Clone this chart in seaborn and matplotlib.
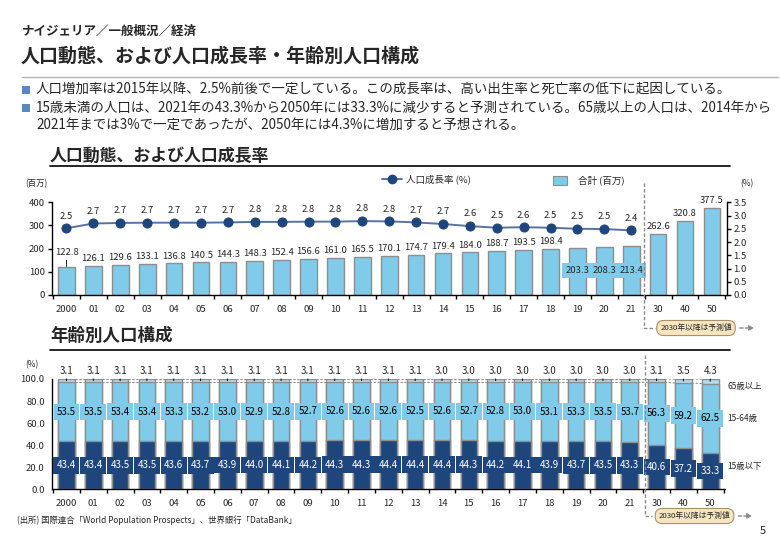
import numpy as np
import pandas as pd
import matplotlib
matplotlib.use("Agg")
import matplotlib.pyplot as plt
import seaborn as sns
from matplotlib.patches import Rectangle, FancyArrowPatch
from matplotlib.lines import Line2D

# ---------------- data ----------------
years = ["2000", "01", "02", "03", "04", "05", "06", "07", "08", "09", "10",
         "11", "12", "13", "14", "15", "16", "17", "18", "19", "20", "21",
         "30", "40", "50"]
total = [122.8, 126.1, 129.6, 133.1, 136.8, 140.5, 144.3, 148.3, 152.4, 156.6,
         161.0, 165.5, 170.1, 174.7, 179.4, 184.0, 188.7, 193.5, 198.4, 203.3,
         208.3, 213.4, 262.6, 320.8, 377.5]
growth = [2.52, 2.70, 2.72, 2.73, 2.73, 2.73, 2.74, 2.76, 2.76, 2.77, 2.77,
          2.79, 2.78, 2.74, 2.68, 2.60, 2.54, 2.56, 2.54, 2.50, 2.49, 2.44]
under15 = [43.4, 43.4, 43.5, 43.5, 43.6, 43.7, 43.9, 44.0, 44.1, 44.2, 44.3,
           44.3, 44.4, 44.4, 44.4, 44.3, 44.2, 44.1, 43.9, 43.7, 43.5, 43.3,
           40.6, 37.2, 33.3]
age15_64 = [53.5, 53.5, 53.4, 53.4, 53.3, 53.2, 53.0, 52.9, 52.8, 52.7, 52.6,
            52.6, 52.6, 52.5, 52.6, 52.7, 52.8, 53.0, 53.1, 53.3, 53.5, 53.7,
            56.3, 59.2, 62.5]
over65 = [3.1, 3.1, 3.1, 3.1, 3.1, 3.1, 3.1, 3.1, 3.1, 3.1, 3.1,
          3.1, 3.1, 3.1, 3.0, 3.0, 3.0, 3.0, 3.0, 3.0, 3.0, 3.0,
          3.1, 3.5, 4.3]
y_left_ticks = [0, 100, 200, 300, 400]
y_right_ticks = [0.0, 0.5, 1.0, 1.5, 2.0, 2.5, 3.0, 3.5]
y_share_ticks = [0.0, 20.0, 40.0, 60.0, 80.0, 100.0]

# ---------------- style ----------------
sns.set_theme(style="white")
plt.rcParams["font.family"] = ["Noto Sans CJK JP", "DejaVu Sans"]
plt.rcParams["axes.unicode_minus"] = False

LB = "#7FCBE9"
PALE = "#B3DDEE"
NAVY = "#1F467C"
LINEC = "#5673A3"
EDGE = "#8E8E8E"
BULLET = "#5B86C2"

W, H = 780, 540
fig = plt.figure(figsize=(7.8, 5.4), dpi=100)
fig.patch.set_facecolor("white")


def P(x, y):
    return (x / W, 1 - y / H)


def axes_px(l, t, r, b):
    return fig.add_axes([l / W, 1 - b / H, (r - l) / W, (b - t) / H])


def ftext(x, y, s, **kw):
    fig.text(x / W, 1 - y / H, s, **kw)


def fline(xs, ys, **kw):
    fig.add_artist(Line2D([x / W for x in xs], [1 - y / H for y in ys],
                          transform=fig.transFigure, **kw))


# ---------------- header ----------------
ftext(22, 31, "ナイジェリア／一般概況／経済", fontsize=9, fontweight="bold",
      va="center", ha="left")
ftext(21, 56, "人口動態、および人口成長率・年齢別人口構成", fontsize=13.7,
      fontweight="bold", va="center", ha="left")
fline([22, 778], [77, 77], color="#B5B5B5", lw=1)

bullets = [
    (90, "人口増加率は2015年以降、2.5%前後で一定している。この成長率は、高い出生率と死亡率の低下に起因している。", True),
    (108, "15歳未満の人口は、2021年の43.3%から2050年には33.3%に減少すると予測されている。65歳以上の人口は、2014年から", True),
    (125, "2021年までは3%で一定であったが、2050年には4.3%に増加すると予想される。", False),
]
for y, s, mark in bullets:
    if mark:
        fig.add_artist(Rectangle(P(22, y + 4), 8 / W, 8 / H, transform=fig.transFigure,
                                 fc=BULLET, ec="none"))
    ftext(36, y, s, fontsize=9.7, va="center", ha="left")

# section titles
ftext(50, 156, "人口動態、および人口成長率", fontsize=12.2, fontweight="bold",
      va="center", ha="left")
fline([50, 730], [166, 166], color="black", lw=1.2)
ftext(50, 336, "年齢別人口構成", fontsize=12.6, fontweight="bold",
      va="center", ha="left")
fline([50, 730], [350, 350], color="black", lw=1.2)

# ---------------- top chart ----------------
ax1 = axes_px(51.7, 202.3, 726.7, 295)
df1 = pd.DataFrame({"year": years, "total": total})
sns.barplot(data=df1, x="year", y="total", order=years, ax=ax1, color=LB,
            edgecolor=EDGE, linewidth=1, width=0.62, saturation=1)
ax1.set_xlim(-0.55, len(years) - 0.45)
ax1.set_ylim(0, 400)

for i, v in enumerate(total):
    if i in (19, 20, 21):
        ax1.text(i, 105, f"{v:.1f}", ha="center", va="center", fontsize=6.8,
                 bbox=dict(boxstyle="square,pad=0.35", fc=LB, ec="none"), zorder=5)
    elif i == 0:
        ax1.annotate(f"{v:.1f}", xy=(i, v), xytext=(0, 7), textcoords="offset points",
                     ha="center", va="bottom", fontsize=6.8,
                     arrowprops=dict(arrowstyle="-", lw=0.6, color="black",
                                     shrinkA=0, shrinkB=0))
    else:
        ax1.annotate(f"{v:.1f}", xy=(i, v), xytext=(0, 2), textcoords="offset points",
                     ha="center", va="bottom", fontsize=6.8)

ax2 = ax1.twinx()
sns.lineplot(x=np.arange(len(growth)), y=growth, ax=ax2, color=LINEC, lw=1.4,
             marker="o", markersize=6.5, markerfacecolor=NAVY, markeredgecolor=NAVY)
ax2.set_ylim(0, 3.5)
for i, g in enumerate(growth):
    ax2.annotate(f"{g:.1f}", xy=(i, g), xytext=(0, 5.5), textcoords="offset points",
                 ha="center", va="bottom", fontsize=6.8)

ax1.set_yticks(y_left_ticks)
ax1.set_yticklabels([str(t) for t in y_left_ticks], fontsize=6.8)
ax2.set_yticks(y_right_ticks)
ax2.set_yticklabels([f"{t:.1f}" for t in y_right_ticks], fontsize=6.8)
for a in (ax1, ax2):
    a.set_xlabel("")
    a.set_ylabel("")
    a.grid(False)
    a.spines["top"].set_visible(False)
    for s in ("left", "right", "bottom"):
        a.spines[s].set_color("black")
        a.spines[s].set_linewidth(1)
ax1.spines["right"].set_visible(False)
ax2.spines["left"].set_visible(False)
ax2.spines["bottom"].set_visible(False)
ax1.tick_params(axis="y", direction="out", length=3, width=1, color="black", pad=2)
ax2.tick_params(axis="y", direction="out", length=3, width=1, color="black", pad=2)

# ---------------- bottom chart ----------------
ax3 = axes_px(51.7, 379, 725, 489.3)
cum2 = [a + b for a, b in zip(under15, age15_64)]
cum3 = [a + b for a, b in zip(cum2, over65)]
bw = 0.62
sns.barplot(x=years, y=cum3, order=years, ax=ax3, color=PALE, edgecolor=EDGE,
            linewidth=1, width=bw, saturation=1)
sns.barplot(x=years, y=cum2, order=years, ax=ax3, color=LB, edgecolor=EDGE,
            linewidth=1, width=bw, saturation=1)
sns.barplot(x=years, y=under15, order=years, ax=ax3, color=NAVY, edgecolor=EDGE,
            linewidth=1, width=bw, saturation=1)
ax3.set_xlim(-0.55, len(years) - 0.45)
ax3.set_ylim(0, 100)

# series lines
for i in range(len(years) - 1):
    for cum in (cum3, cum2):
        ax3.plot([i + bw / 2, i + 1 - bw / 2], [min(cum[i], 100), min(cum[i + 1], 100)],
                 ls=(0, (2, 1.5)), color="#8A8A8A", lw=0.8, zorder=1)

for i in range(len(years)):
    ax3.text(i, under15[i] / 2, f"{under15[i]:.1f}", ha="center", va="center",
             fontsize=7, color="white",
             bbox=dict(boxstyle="square,pad=0.35", fc=NAVY, ec="none"), zorder=5)
    ax3.text(i, under15[i] + age15_64[i] / 2, f"{age15_64[i]:.1f}", ha="center",
             va="center", fontsize=7, color="black",
             bbox=dict(boxstyle="square,pad=0.35", fc=LB, ec="none"), zorder=5)
    ax3.annotate(f"{over65[i]:.1f}", xy=(i, cum2[i] + over65[i] / 2),
                 xytext=(i, 107.5), textcoords="data", ha="center", va="center",
                 fontsize=7, annotation_clip=False,
                 arrowprops=dict(arrowstyle="-", lw=0.7, color="black",
                                 shrinkA=0, shrinkB=0))

ax3.set_yticks(y_share_ticks)
ax3.set_yticklabels([f"{t:.1f}" for t in y_share_ticks], fontsize=6.8)
ax3.set_xlabel("")
ax3.set_ylabel("")
ax3.grid(False)
for s in ("top", "right"):
    ax3.spines[s].set_visible(False)
for s in ("left", "bottom"):
    ax3.spines[s].set_color("black")
    ax3.spines[s].set_linewidth(1)
ax3.tick_params(axis="y", direction="out", length=3, width=1, color="black", pad=2)

# shared x tick handling (category labels, boundary ticks)
for a in (ax1, ax3):
    a.set_xticks(np.arange(len(years)))
    a.set_xticklabels(years, fontsize=6.8)
    a.set_xticks(np.arange(-0.5, len(years)), minor=True)
    a.tick_params(axis="x", which="major", length=0, pad=7)
    a.tick_params(axis="x", which="minor", direction="out", length=3, width=1,
                  color="black", bottom=True)

# axis unit labels
ftext(25, 184, "(百万)", fontsize=6, va="center", ha="left")
ftext(740, 184, "(%)", fontsize=6, va="center", ha="left")
ftext(25, 365, "(%)", fontsize=6, va="center", ha="left")

# legend (top chart)
fline([382, 402], [179, 179], color=LINEC, lw=1.4)
fig.add_artist(Line2D([392 / W], [1 - 179 / H], transform=fig.transFigure,
                      marker="o", markersize=6, color=NAVY, lw=0))
ftext(406, 179, "人口成長率 (%)", fontsize=6.8, va="center", ha="left")
fig.add_artist(Rectangle(P(553, 185), 14 / W, 9 / H, transform=fig.transFigure,
                         fc=LB, ec=EDGE, lw=0.8))
ftext(578, 180, "合計 (百万)", fontsize=6.8, va="center", ha="left")

# right labels (bottom chart)
ftext(727, 386, "65歳以上", fontsize=6, va="center", ha="left")
ftext(727, 419, "15-64歳", fontsize=6, va="center", ha="left")
ftext(727, 467, "15歳以下", fontsize=6, va="center", ha="left")

# forecast markers
def forecast(xv, ytop, ybox, xbox_l, xbox_c, xarrow_end):
    fline([xv, xv, xbox_l], [ytop, ybox, ybox], color="#8A8A8A", lw=1,
          ls=(0, (2.5, 1.5)))
    ftext(xbox_c, ybox, "2030年以降は予測値", fontsize=5.6, va="center", ha="center",
          bbox=dict(boxstyle="round,pad=0.45,rounding_size=0.9", fc="#F6E6C0",
                    ec="#A8926A", lw=0.8))
    fig.add_artist(FancyArrowPatch(P(xbox_c + 41, ybox), P(xarrow_end, ybox),
                                   transform=fig.transFigure, arrowstyle="-|>",
                                   mutation_scale=7, color="#8A8A8A", lw=1,
                                   linestyle=(0, (2.5, 1.5))))

forecast(644.3, 183, 328, 655, 696, 757)
forecast(645, 355, 516, 652, 694.5, 755)

# footer
ftext(17, 520, "(出所) 国際連合「World Population Prospects」、世界銀行「DataBank」",
      fontsize=6, va="center", ha="left")
ftext(760, 531, "5", fontsize=8, va="center", ha="left")

fig.savefig("out.png", dpi=100, facecolor="white")
